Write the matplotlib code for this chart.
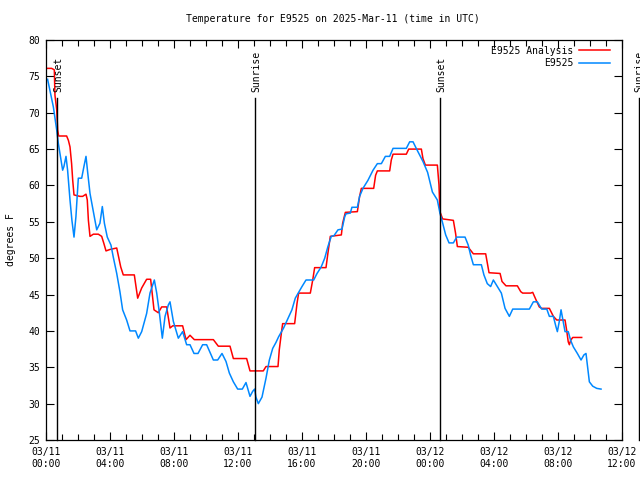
import matplotlib
matplotlib.use("Agg")
import matplotlib.pyplot as plt
from matplotlib.ticker import MultipleLocator

# hours since 03/11 00:00 UTC
obs_hours = [0.1, 0.46, 0.67, 0.77, 0.9, 1.04, 1.12, 1.25, 1.35, 1.5, 1.62, 1.75, 1.87, 2.02,
             2.23, 2.37, 2.5, 2.6, 2.75, 2.96, 3.17, 3.37, 3.52, 3.65, 3.83, 4.06, 4.2, 4.42,
             4.62, 4.79, 5.04, 5.25, 5.6, 5.77, 5.98, 6.29, 6.5, 6.77, 6.92, 7.08, 7.27, 7.44,
             7.65, 7.75, 7.96, 8.27, 8.54, 8.79, 9.0, 9.25, 9.5, 9.79, 10.04, 10.46, 10.73,
             11.0, 11.25, 11.46, 11.71, 11.98, 12.27, 12.5, 12.75, 12.92, 13.04, 13.12, 13.27,
             13.5, 13.75, 13.96, 14.17, 14.37, 14.54, 14.85, 15.12, 15.37, 15.58, 15.79, 16.0,
             16.25, 16.73, 16.94, 17.2, 17.42, 17.62, 17.83, 18.0, 18.25, 18.5, 18.67, 18.75,
             19.02, 19.12, 19.46, 19.6, 19.81, 20.12, 20.44, 20.71, 20.96, 21.21, 21.48, 21.69,
             22.52, 22.73, 22.94, 23.14, 23.35, 23.56, 23.85, 24.15, 24.46, 24.62, 24.77, 24.98,
             25.19, 25.46, 25.67, 26.19, 26.39, 26.54, 26.71, 27.21, 27.37, 27.58, 27.79, 27.96,
             28.21, 28.46, 28.69, 28.96, 29.17, 30.21, 30.46, 30.71, 30.98, 31.3, 31.46, 31.71,
             31.87, 31.96, 32.08, 32.19, 32.29, 32.44, 32.64, 32.79, 32.96, 33.21, 33.44, 33.62,
             33.75, 33.96, 34.17, 34.42, 34.69]
obs_temps = [74.6, 70.8, 67.6, 65.8, 64.0, 62.1, 62.6, 64.0, 62.1, 58.0, 55.2, 52.9, 55.7, 61.0,
             61.0, 62.6, 64.0, 61.9, 58.9, 56.4, 53.9, 54.8, 57.1, 54.8, 52.9, 51.8, 50.2, 47.9,
             45.4, 42.9, 41.5, 40.0, 40.0, 39.0, 39.9, 42.4, 45.2, 47.0, 45.2, 42.6, 39.0, 42.0,
             43.6, 44.0, 41.3, 39.0, 39.9, 38.1, 38.1, 36.9, 36.9, 38.1, 38.1, 36.0, 36.0,
             36.9, 35.8, 34.2, 33.0, 32.0, 32.0, 32.9, 31.0, 31.7, 32.0, 30.9, 30.0,
             30.9, 33.5, 36.0, 37.6, 38.4, 39.2, 40.4, 41.7, 42.9, 44.5, 45.3, 46.1,
             47.0, 47.0, 47.9, 48.8, 50.0, 51.6, 53.0, 53.1, 53.9, 54.0, 55.7, 56.1,
             56.2, 57.0, 57.0, 58.5, 59.6, 60.7, 62.1, 63.0, 63.0, 64.0, 64.0, 65.1,
             65.1, 66.0, 66.0, 65.1, 64.2, 63.3, 61.8, 59.1, 58.0, 56.2, 55.0, 53.2,
             52.1, 52.1, 52.9, 52.9, 51.8, 50.4, 49.1, 49.1, 47.7, 46.5, 46.1, 47.0,
             46.1, 45.2, 43.1, 42.0, 43.0, 43.0, 44.0, 44.0, 43.0, 43.0, 42.0, 42.0,
             40.6, 39.9, 41.3, 42.9, 41.7, 39.9, 39.9, 38.7, 37.8, 36.9, 36.0, 36.7,
             36.9, 33.0, 32.4, 32.1, 32.0]

ana_hours = [0.04, 0.35, 0.52, 0.56, 0.67, 0.73, 0.79, 1.29, 1.4, 1.5, 1.6, 1.67, 1.75, 2.12,
             2.29, 2.5, 2.58, 2.65, 2.75, 2.96, 3.27, 3.48, 3.62, 3.75, 4.0, 4.42, 4.67, 4.83,
             5.52, 5.73, 5.98, 6.29, 6.54, 6.75, 7.02, 7.23, 7.54, 7.75, 7.92, 8.54, 8.75, 9.0,
             9.27, 10.46, 10.77, 11.5, 11.71, 12.54, 12.75, 13.58, 13.75, 14.5, 14.58, 14.71,
             14.79, 15.54, 15.69, 15.79, 16.52, 16.67, 16.79, 17.5, 17.62, 17.77, 18.46, 18.54,
             18.71, 19.46, 19.6, 19.71, 20.48, 20.6, 20.71, 21.48, 21.58, 21.69, 22.52, 22.67,
             23.46, 23.56, 23.71, 24.46, 24.56, 24.62, 24.79, 25.46, 25.6, 25.71, 26.39, 26.71,
             27.48, 27.69, 28.38, 28.5, 28.75, 29.46, 29.67, 29.79, 30.29, 30.42, 30.62, 30.83,
             30.98, 31.46, 31.71, 31.92, 32.44, 32.54, 32.64, 32.71, 32.79, 32.92, 33.48]
ana_temps = [76.1, 76.1, 75.9, 72.4, 70.4, 67.6, 66.8, 66.8, 66.2, 65.3, 63.0, 60.7, 58.7, 58.5,
             58.5, 58.8, 58.0, 55.2, 53.0, 53.3, 53.3, 53.0, 52.0, 51.0, 51.2, 51.4, 48.8, 47.7,
             47.7, 44.5, 45.9, 47.1, 47.1, 42.9, 42.5, 43.3, 43.3, 40.4, 40.7, 40.7, 38.8, 39.4,
             38.8, 38.8, 37.9, 37.9, 36.2, 36.2, 34.5, 34.5, 35.1, 35.1, 37.4, 39.7,
             41.0, 41.0, 43.8, 45.2, 45.2, 47.0, 48.7, 48.7, 50.7, 53.0, 53.2, 54.8,
             56.3, 56.4, 58.5, 59.6, 59.6, 61.4, 62.0, 62.0, 63.5, 64.3, 64.3, 65.0,
             65.0, 63.7, 62.8, 62.8, 60.1, 56.4, 55.4, 55.2, 53.4, 51.6, 51.5, 50.6,
             50.6, 48.0, 47.9, 46.8, 46.2, 46.2, 45.4, 45.2, 45.2, 45.3, 44.3, 43.3,
             43.1, 43.1, 42.0, 41.5, 41.5, 40.1, 38.5, 38.1, 38.7, 39.1, 39.1]

sun_hours = [0.71, 13.08, 24.64, 37.06]
sun_labels = ['Sunset', 'Sunrise', 'Sunset', 'Sunrise']

tick_hours = [0, 4, 8, 12, 16, 20, 24, 28, 32, 36]
tick_labels = ['03/11\n00:00', '03/11\n04:00', '03/11\n08:00', '03/11\n12:00', '03/11\n16:00',
               '03/11\n20:00', '03/12\n00:00', '03/12\n04:00', '03/12\n08:00', '03/12\n12:00']

plt.rcParams['font.family'] = 'DejaVu Sans Mono'
plt.rcParams['font.size'] = 7

fig = plt.figure(figsize=(6.4, 4.8), dpi=100)
ax = fig.add_axes([46 / 640, 40 / 480, 576 / 640, 400 / 480])

ax.plot(ana_hours, ana_temps, color='#ff0000', lw=1.1, label='E9525 Analysis')
ax.plot(obs_hours, obs_temps, color='#0088ff', lw=1.1, label='E9525')

# sunset / sunrise markers (last one sits just past the right edge)
for h, lab in zip(sun_hours, sun_labels):
    ax.plot([h, h], [25, 72.0], color='black', lw=1.0, clip_on=False)
    ax.text(h + 0.05, 72.8, lab, rotation=90, ha='center', va='bottom', clip_on=False)

ax.set_xlim(0, 36)
ax.set_ylim(25, 80)
ax.set_xticks(tick_hours)
ax.set_xticklabels(tick_labels)
ax.xaxis.set_minor_locator(MultipleLocator(1))
ax.yaxis.set_major_locator(MultipleLocator(5))
ax.tick_params(which='both', direction='in', top=True, right=True, width=0.8, pad=5)
ax.tick_params(which='major', length=6)
ax.tick_params(which='minor', length=4)
ax.tick_params(axis='y', pad=4)
for s in ax.spines.values():
    s.set_linewidth(0.9)

ax.set_ylabel('degrees F', labelpad=9)
fig.text(0.52, 0.96, 'Temperature for E9525 on 2025-Mar-11 (time in UTC)', ha='center', va='center')

ax.legend(loc='upper right', bbox_to_anchor=(0.993, 1.005), frameon=False, markerfirst=False,
          handlelength=3.2, handletextpad=0.6, labelspacing=0.25, borderpad=0.3)

fig.savefig('out.png', dpi=100)
